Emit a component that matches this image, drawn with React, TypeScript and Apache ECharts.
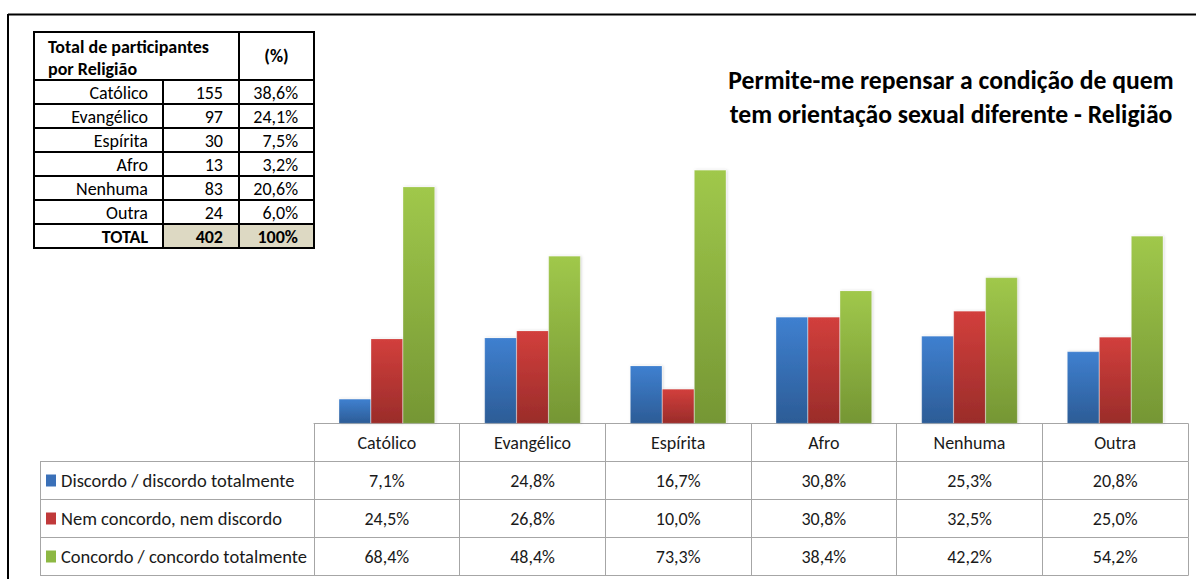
import React, { useEffect, useRef } from "react";
import * as echarts from "echarts";

const categories = ["Católico", "Evangélico", "Espírita", "Afro", "Nenhuma", "Outra"];
const seriesNames = [
  "Discordo / discordo totalmente",
  "Nem concordo, nem discordo",
  "Concordo / concordo totalmente",
];
const discordo = [7.1, 24.8, 16.7, 30.8, 25.3, 20.8];
const neutro = [24.5, 26.8, 10.0, 30.8, 32.5, 25.0];
const concordo = [68.4, 48.4, 73.3, 38.4, 42.2, 54.2];

const religioes = ["Católico", "Evangélico", "Espírita", "Afro", "Nenhuma", "Outra"];
const participantes = [155, 97, 30, 13, 83, 24];
const percParticipantes = [38.6, 24.1, 7.5, 3.2, 20.6, 6.0];
const totalParticipantes = 402;
const totalPerc = "100%";
const titleLines = [
  "Permite-me repensar a condição de quem",
  "tem orientação sexual diferente - Religião",
];

const FONT = "Carlito, 'Liberation Sans Narrow', 'Arial Narrow', Lato, sans-serif";
const TXT = "#1a1a1a";
const GRID_LINE = "#a6a6a6";

const fmt = (v: number) => v.toFixed(1).replace(".", ",") + "%";

const grad = (top: string, bottom: string) =>
  new echarts.graphic.LinearGradient(0, 0, 0, 1, [
    { offset: 0, color: top },
    { offset: 1, color: bottom },
  ]);

const seriesColors = [
  ["#3f80d0", "#2c5c96"],
  ["#d23f3c", "#9a2c2a"],
  ["#a0c84b", "#759634"],
];
const legendSolid = ["#3a70b8", "#c0393a", "#8db843"];

export default function App() {
  const ref = useRef<HTMLDivElement>(null);
  useEffect(() => {
    if (!ref.current) return;
    const chart = echarts.init(ref.current, undefined, { renderer: "svg" });

    const seriesData = [discordo, neutro, concordo];
    const ROW = 38;
    const BASE = 423.5;

    const tableAxis = (offset: number, fmtFn: ((v: string, i: number) => string) | null) => ({
      type: "category",
      data: categories,
      position: "bottom",
      offset,
      axisLine: { show: true, lineStyle: { color: GRID_LINE, width: 1 } },
      axisTick: {
        show: fmtFn !== null,
        length: ROW,
        interval: 0,
        alignWithLabel: false,
        lineStyle: { color: GRID_LINE, width: 1 },
      },
      axisLabel: {
        show: fmtFn !== null,
        interval: 0,
        margin: 10,
        fontFamily: FONT,
        fontSize: 18,
        color: TXT,
        formatter: fmtFn || undefined,
      },
      splitLine: { show: false },
    });

    const xAxes = [
      tableAxis(0, (v: string) => v),
      tableAxis(ROW, (_v: string, i: number) => fmt(discordo[i])),
      tableAxis(ROW * 2, (_v: string, i: number) => fmt(neutro[i])),
      tableAxis(ROW * 3, (_v: string, i: number) => fmt(concordo[i])),
      tableAxis(ROW * 4, null),
    ];

    const graphic: any[] = [];
    // outer frame
    graphic.push({ type: "line", shape: { x1: 8, y1: 14.5, x2: 1196, y2: 14.5 }, style: { stroke: "#000", lineWidth: 2 } });
    graphic.push({ type: "line", shape: { x1: 8, y1: 14, x2: 8, y2: 579 }, style: { stroke: "#000", lineWidth: 2 } });

    // title
    titleLines.forEach((t, i) => {
      graphic.push({
        type: "text",
        x: 951,
        y: 80 + i * 34,
        style: {
          text: t,
          fontFamily: FONT,
          fontSize: 25.7,
          fontWeight: "bold",
          fill: "#000",
          align: "center",
          verticalAlign: "middle",
        },
      });
    });

    // left summary table
    const tx0 = 34, tx1 = 163, tx2 = 239, tx3 = 314;
    const ty0 = 32, tyH = 80, rowH = 24;
    const nRows = religioes.length + 1;
    const tyEnd = tyH + rowH * nRows;
    graphic.push({
      type: "rect",
      shape: { x: tx1, y: tyH + rowH * religioes.length, width: tx3 - tx1, height: rowH },
      style: { fill: "#ddd9c3" },
    });
    const hLines = [ty0, tyH];
    for (let r = 1; r <= nRows; r++) hLines.push(tyH + rowH * r);
    hLines.forEach((y) =>
      graphic.push({ type: "line", shape: { x1: tx0, y1: y, x2: tx3, y2: y }, style: { stroke: "#000", lineWidth: 2 } })
    );
    [[tx0, ty0], [tx2, ty0], [tx3, ty0], [tx1, tyH]].forEach(([x, y0]) =>
      graphic.push({ type: "line", shape: { x1: x, y1: y0 - 1, x2: x, y2: tyEnd + 1 }, style: { stroke: "#000", lineWidth: 2 } })
    );
    graphic.push({
      type: "text",
      x: 48,
      y: 36,
      style: {
        text: "Total de participantes\npor Religião",
        fontFamily: FONT,
        fontSize: 18,
        fontWeight: "bold",
        lineHeight: 22,
        fill: "#000",
        align: "left",
        verticalAlign: "top",
      },
    });
    graphic.push({
      type: "text",
      x: (tx2 + tx3) / 2,
      y: (ty0 + tyH) / 2,
      style: { text: "(%)", fontFamily: FONT, fontSize: 18, fontWeight: "bold", fill: "#000", align: "center", verticalAlign: "middle" },
    });
    const rowTexts = religioes.map((r, i) => [r, String(participantes[i]), fmt(percParticipantes[i])]);
    rowTexts.push(["TOTAL", String(totalParticipantes), totalPerc]);
    const rightEdges = [148, 223, 298];
    rowTexts.forEach((cells, i) => {
      const yc = tyH + rowH * i + rowH / 2 + 1;
      const bold = i === rowTexts.length - 1;
      cells.forEach((txt, c) => {
        graphic.push({
          type: "text",
          x: rightEdges[c],
          y: yc,
          style: {
            text: txt,
            fontFamily: FONT,
            fontSize: 18,
            fontWeight: bold ? "bold" : "normal",
            fill: "#000",
            align: "right",
            verticalAlign: "middle",
          },
        });
      });
    });

    // data-table legend column
    const lx0 = 40, lx1 = 314;
    for (let r = 1; r <= 4; r++) {
      const y = BASE + ROW * r;
      graphic.push({ type: "line", shape: { x1: lx0, y1: y, x2: lx1, y2: y }, style: { stroke: GRID_LINE, lineWidth: 1 } });
    }
    graphic.push({ type: "line", shape: { x1: lx0 + 0.5, y1: BASE + ROW, x2: lx0 + 0.5, y2: BASE + ROW * 4 }, style: { stroke: GRID_LINE, lineWidth: 1 } });
    seriesNames.forEach((n, i) => {
      const yc = BASE + ROW * (i + 1) + ROW / 2;
      graphic.push({ type: "rect", shape: { x: 46, y: yc - 6, width: 10, height: 12 }, style: { fill: legendSolid[i] } });
      graphic.push({
        type: "text",
        x: 61,
        y: yc,
        style: { text: n, fontFamily: FONT, fontSize: 18.5, fill: TXT, align: "left", verticalAlign: "middle" },
      });
    });

    chart.setOption({
      animation: false,
      backgroundColor: "#ffffff",
      grid: { left: 314, right: 8, top: BASE - 80 * 3.46, bottom: 579 - BASE, containLabel: false },
      xAxis: xAxes,
      yAxis: { type: "value", min: 0, max: 80, show: false, splitLine: { show: false } },
      series: seriesData.map((d, i) => ({
        name: seriesNames[i],
        type: "bar",
        xAxisIndex: 0,
        data: d,
        barWidth: 32,
        barGap: "0%",
        itemStyle: {
          color: grad(seriesColors[i][0], seriesColors[i][1]),
          borderColor: "rgba(255,255,255,0.35)",
          borderWidth: 0.5,
          shadowBlur: 3,
          shadowColor: "rgba(0,0,0,0.18)",
          shadowOffsetX: 1,
        },
      })),
      graphic,
    });

    return () => chart.dispose();
  }, []);

  return (
    <div
      ref={ref}
      style={{ position: "fixed", left: 0, top: 0, width: 1196, height: 579, background: "#fff" }}
    />
  );
}
